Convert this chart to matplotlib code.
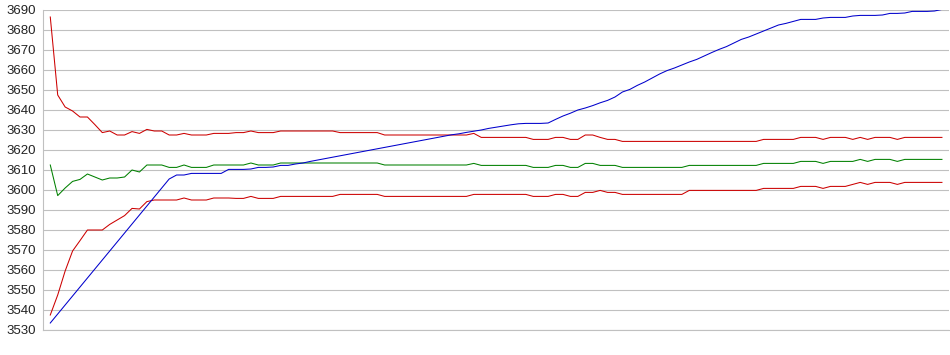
import numpy as np
import matplotlib
matplotlib.use("Agg")
import matplotlib.pyplot as plt

# upper band, middle line, lower band and price-like blue line, one value per bar
upper = [3686.5, 3647.5, 3641.5, 3639.5, 3636.5, 3636.5, 3632.7, 3628.7, 3629.5, 3627.5,
         3627.5, 3629.2, 3628.3, 3630.3, 3629.5, 3629.5, 3627.5, 3627.5, 3628.3, 3627.5,
         3627.5, 3627.5, 3628.3, 3628.3, 3628.3, 3628.7, 3628.7, 3629.5, 3628.7, 3628.7,
         3628.7, 3629.5, 3629.5, 3629.5, 3629.5, 3629.5, 3629.5, 3629.5, 3629.5, 3628.7,
         3628.7, 3628.7, 3628.7, 3628.7, 3628.7, 3627.5, 3627.5, 3627.5, 3627.5, 3627.5,
         3627.5, 3627.5, 3627.5, 3627.5, 3627.5, 3627.5, 3627.5, 3628.3, 3626.3, 3626.3,
         3626.3, 3626.3, 3626.3, 3626.3, 3626.3, 3625.3, 3625.3, 3625.3, 3626.3, 3626.3,
         3625.3, 3625.3, 3627.5, 3627.5, 3626.3, 3625.3, 3625.3, 3624.3, 3624.3, 3624.3,
         3624.3, 3624.3, 3624.3, 3624.3, 3624.3, 3624.3, 3624.3, 3624.3, 3624.3, 3624.3,
         3624.3, 3624.3, 3624.3, 3624.3, 3624.3, 3624.3, 3625.3, 3625.3, 3625.3, 3625.3,
         3625.3, 3626.3, 3626.3, 3626.3, 3625.3, 3626.3, 3626.3, 3626.3, 3625.3, 3626.3,
         3625.3, 3626.3, 3626.3, 3626.3, 3625.3, 3626.3, 3626.3, 3626.3, 3626.3, 3626.3,
         3626.3]

middle = [3612.5, 3597.2, 3601.0, 3604.3, 3605.3, 3608.0, 3606.5, 3605.0, 3606.0, 3606.0,
          3606.5, 3610.0, 3609.0, 3612.5, 3612.5, 3612.5, 3611.3, 3611.3, 3612.5, 3611.3,
          3611.3, 3611.3, 3612.5, 3612.5, 3612.5, 3612.5, 3612.5, 3613.5, 3612.5, 3612.5,
          3612.5, 3613.5, 3613.5, 3613.5, 3613.5, 3613.5, 3613.5, 3613.5, 3613.5, 3613.5,
          3613.5, 3613.5, 3613.5, 3613.5, 3613.5, 3612.5, 3612.5, 3612.5, 3612.5, 3612.5,
          3612.5, 3612.5, 3612.5, 3612.5, 3612.5, 3612.5, 3612.5, 3613.3, 3612.3, 3612.3,
          3612.3, 3612.3, 3612.3, 3612.3, 3612.3, 3611.3, 3611.3, 3611.3, 3612.3, 3612.3,
          3611.3, 3611.3, 3613.3, 3613.3, 3612.3, 3612.3, 3612.3, 3611.3, 3611.3, 3611.3,
          3611.3, 3611.3, 3611.3, 3611.3, 3611.3, 3611.3, 3612.3, 3612.3, 3612.3, 3612.3,
          3612.3, 3612.3, 3612.3, 3612.3, 3612.3, 3612.3, 3613.3, 3613.3, 3613.3, 3613.3,
          3613.3, 3614.3, 3614.3, 3614.3, 3613.3, 3614.3, 3614.3, 3614.3, 3614.3, 3615.3,
          3614.3, 3615.3, 3615.3, 3615.3, 3614.3, 3615.3, 3615.3, 3615.3, 3615.3, 3615.3,
          3615.3]

lower = [3537.5, 3547.5, 3559.5, 3569.5, 3574.7, 3580.0, 3580.0, 3580.0, 3582.8, 3585.0,
         3587.2, 3590.8, 3590.5, 3594.2, 3595.0, 3595.0, 3595.0, 3595.0, 3596.0, 3595.0,
         3595.0, 3595.0, 3596.0, 3596.0, 3596.0, 3595.8, 3595.8, 3596.8, 3595.8, 3595.8,
         3595.8, 3596.8, 3596.8, 3596.8, 3596.8, 3596.8, 3596.8, 3596.8, 3596.8, 3597.8,
         3597.8, 3597.8, 3597.8, 3597.8, 3597.8, 3596.8, 3596.8, 3596.8, 3596.8, 3596.8,
         3596.8, 3596.8, 3596.8, 3596.8, 3596.8, 3596.8, 3596.8, 3597.8, 3597.8, 3597.8,
         3597.8, 3597.8, 3597.8, 3597.8, 3597.8, 3596.8, 3596.8, 3596.8, 3597.8, 3597.8,
         3596.8, 3596.8, 3598.8, 3598.8, 3599.8, 3598.8, 3598.8, 3597.8, 3597.8, 3597.8,
         3597.8, 3597.8, 3597.8, 3597.8, 3597.8, 3597.8, 3599.8, 3599.8, 3599.8, 3599.8,
         3599.8, 3599.8, 3599.8, 3599.8, 3599.8, 3599.8, 3600.8, 3600.8, 3600.8, 3600.8,
         3600.8, 3601.8, 3601.8, 3601.8, 3600.8, 3601.8, 3601.8, 3601.8, 3602.8, 3603.8,
         3602.8, 3603.8, 3603.8, 3603.8, 3602.8, 3603.8, 3603.8, 3603.8, 3603.8, 3603.8,
         3603.8]

blue = [3533.5, 3538.0, 3542.5, 3547.0, 3551.5, 3556.0, 3560.5, 3565.0, 3569.5, 3574.0,
        3578.5, 3583.0, 3587.5, 3592.0, 3596.5, 3601.0, 3605.5, 3607.5, 3607.5, 3608.3,
        3608.3, 3608.3, 3608.3, 3608.3, 3610.3, 3610.3, 3610.3, 3610.5, 3611.3, 3611.3,
        3611.5, 3612.3, 3612.3, 3613.0, 3613.5, 3614.3, 3615.0, 3615.7, 3616.4, 3617.1,
        3617.8, 3618.5, 3619.2, 3619.9, 3620.6, 3621.3, 3622.0, 3622.7, 3623.4, 3624.1,
        3624.8, 3625.5, 3626.2, 3626.9, 3627.6, 3628.1, 3628.8, 3629.4, 3630.0, 3630.8,
        3631.4, 3632.0, 3632.6, 3633.1, 3633.3, 3633.3, 3633.3, 3633.5, 3635.3, 3637.0,
        3638.4, 3640.0, 3641.0, 3642.2, 3643.6, 3644.8, 3646.5, 3649.0, 3650.3, 3652.3,
        3654.0, 3656.0, 3658.0, 3659.7, 3661.0, 3662.5, 3664.0, 3665.3, 3667.0, 3668.7,
        3670.3, 3671.7, 3673.5, 3675.3, 3676.5, 3678.0, 3679.5, 3681.0, 3682.5, 3683.3,
        3684.3, 3685.3, 3685.3, 3685.3, 3686.0, 3686.3, 3686.3, 3686.3, 3687.0, 3687.3,
        3687.3, 3687.3, 3687.5, 3688.3, 3688.3, 3688.5, 3689.3, 3689.3, 3689.3, 3689.5,
        3690.3]

y_ticks = [3530, 3540, 3550, 3560, 3570, 3580, 3590, 3600, 3610, 3620,
           3630, 3640, 3650, 3660, 3670, 3680, 3690]

plt.rcParams['font.family'] = ['Liberation Sans', 'DejaVu Sans']

fig = plt.figure(figsize=(9.5, 3.55), dpi=100)
ax = fig.add_axes([43 / 950, 1 - 330 / 355, 906 / 950, 320 / 355])

x = np.arange(len(blue))
ax.plot(x, upper, color='#cc0000', lw=0.75, zorder=3)
ax.plot(x, lower, color='#cc0000', lw=0.75, zorder=3)
ax.plot(x, middle, color='#008000', lw=0.75, zorder=3)
ax.plot(x, blue, color='#0000cc', lw=0.75, zorder=4)

ax.set_xlim(-0.98, 120.95)
ax.set_ylim(3530, 3690)
ax.set_yticks(y_ticks)
ax.set_xticks([])
ax.yaxis.grid(True, color='#c0c0c0', lw=0.8)
ax.set_axisbelow(True)
ax.tick_params(axis='y', length=0, pad=5, labelsize=9.5, labelcolor='#222222')

for side in ['top', 'right']:
    ax.spines[side].set_visible(False)
for side in ['left', 'bottom']:
    ax.spines[side].set_color('#c0c0c0')
    ax.spines[side].set_linewidth(0.8)

fig.savefig('out.png', dpi=100)
